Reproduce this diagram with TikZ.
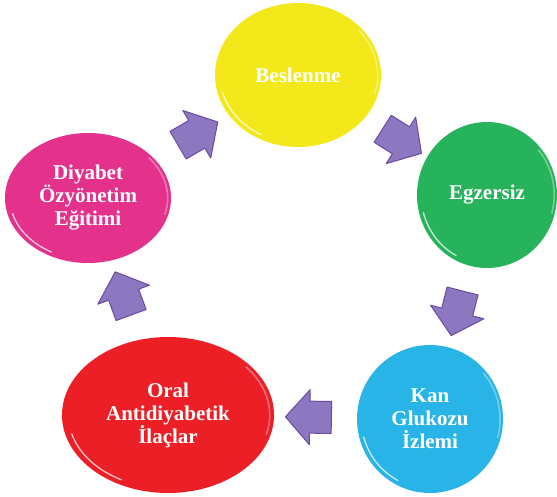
\documentclass[tikz,border=0pt]{standalone}
\usepackage{fontspec}
\setmainfont{Liberation Serif}
\usetikzlibrary{shapes.geometric,shapes.arrows,calc}

\definecolor{cYellow}{RGB}{242,232,26}
\definecolor{cGreen}{RGB}{39,178,92}
\definecolor{cBlue}{RGB}{40,180,230}
\definecolor{cRed}{RGB}{236,30,38}
\definecolor{cPink}{RGB}{228,50,140}
\definecolor{cArrowFill}{RGB}{140,120,192}
\definecolor{cArrowLine}{RGB}{108,74,160}

\tikzset{
  bubble/.style={ellipse, inner sep=0pt, text=white, align=center,
    font=\fontsize{21}{23}\selectfont\bfseries},
  cyclearrow/.style={single arrow, draw=cArrowLine, fill=cArrowFill,
    line width=1pt, line join=round, inner sep=0pt,
    minimum height=46pt,
    single arrow head extend=11.5pt, single arrow tip angle=97,
    sloped, allow upside down, pos=0.5},
  gloss/.style={white, line width=1.3pt, line cap=round, opacity=0.75},
  softgloss/.style={white, line width=1.6pt, line cap=round, opacity=0.35},
}

% shaft thickness of the block arrows
\newcommand{\shaft}{\rule{0pt}{31pt}}

% glossy rim on a bubble: node name, x radius, y radius
\newcommand{\bubblegloss}[3]{%
  \draw[gloss] ($(#1.center)+(118:0.94*#2 and 0.94*#3)$)
    arc[start angle=118, end angle=165, x radius=0.94*#2, y radius=0.94*#3];
  \draw[softgloss] ($(#1.center)+(-40:0.96*#2 and 0.96*#3)$)
    arc[start angle=-40, end angle=15, x radius=0.96*#2, y radius=0.96*#3];
}

\begin{document}
\begin{tikzpicture}[x=1pt, y=-1pt]
  \useasboundingbox (0,0) rectangle (557,497);

  % the five stages of the cycle
  \node[bubble, fill=cYellow, minimum width=166pt, minimum height=144pt]
    (beslenme) at (298,75) {Beslenme};
  \node[bubble, fill=cGreen, minimum width=140pt, minimum height=146pt]
    (egzersiz) at (487,195) {Egzersiz};
  \node[bubble, fill=cBlue, minimum width=146pt, minimum height=148pt]
    (izlem) at (430,419) {Kan\\Glukozu\\İzlemi};
  \node[bubble, fill=cRed, minimum width=212pt, minimum height=156pt]
    (ilac) at (168,415) {Oral\\Antidiyabetik\\İlaçlar};
  \node[bubble, fill=cPink, minimum width=166pt, minimum height=130pt]
    (egitim) at (88,198) {Diyabet\\Özyönetim\\Eğitimi};

  \bubblegloss{beslenme}{83}{72}
  \bubblegloss{egzersiz}{70}{73}
  \bubblegloss{izlem}{73}{74}
  \bubblegloss{ilac}{106}{78}
  \bubblegloss{egitim}{83}{65}

  % block arrows between consecutive stages
  \path (egitim)   -- node[cyclearrow] (a1) {\shaft} (beslenme);
  \path (beslenme) -- node[cyclearrow] (a2) {\shaft} (egzersiz);
  \path (egzersiz) -- node[cyclearrow] (a3) {\shaft} (izlem);
  \path (izlem)    -- node[cyclearrow] (a4) {\shaft} (ilac);
  \path (ilac)     -- node[cyclearrow] (a5) {\shaft} (egitim);
\end{tikzpicture}
\end{document}
